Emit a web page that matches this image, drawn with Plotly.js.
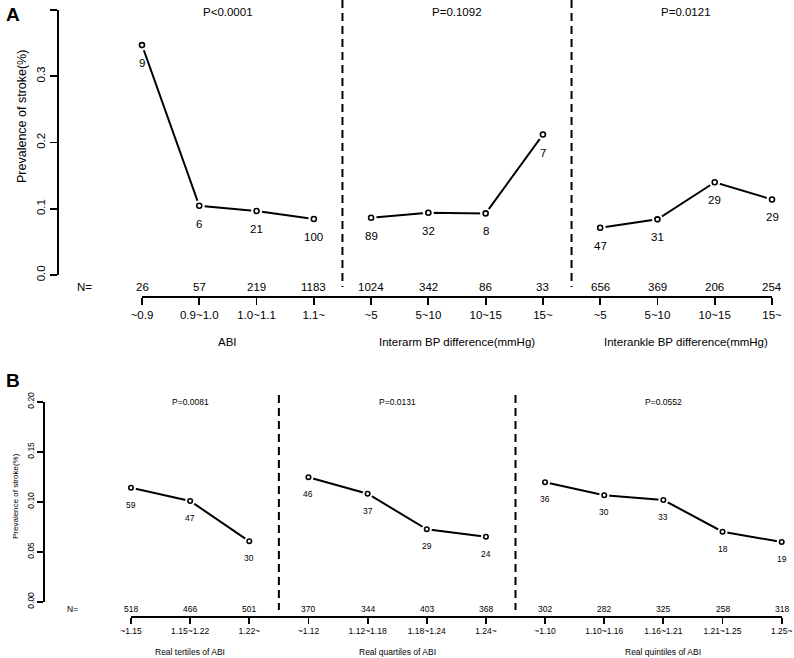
<!DOCTYPE html>
<html>
<head>
<meta charset="utf-8">
<script src="https://cdn.plot.ly/plotly-3.0.1.min.js"></script>
<style>html,body{margin:0;padding:0;background:#fff;}#chart{width:794px;height:658px;}</style>
</head>
<body>
<div id="chart"></div>
<script>
// ---- Panel A data ----
const aCats = ["~0.9","0.9~1.0","1.0~1.1","1.1~","~5","5~10","10~15","15~","~5","5~10","10~15","15~"];
const aVals = [0.347,0.1045,0.0965,0.0845,0.0865,0.094,0.093,0.212,0.0713,0.084,0.140,0.114];
const aCounts = ["9","6","21","100","89","32","8","7","47","31","29","29"];
const aN = ["26","57","219","1183","1024","342","86","33","656","369","206","254"];
const aGroupSizes = [4,4,4];
const aGroupNames = ["ABI","Interarm BP difference(mmHg)","Interankle BP difference(mmHg)"];
const aPvals = ["P<0.0001","P=0.1092","P=0.0121"];
const aYTicks = [0,0.1,0.2,0.3,0.4];

// ---- Panel B data ----
const bCats = ["~1.15","1.15~1.22","1.22~","~1.12","1.12~1.18","1.18~1.24","1.24~","~1.10","1.10~1.16","1.16~1.21","1.21~1.25","1.25~"];
const bVals = [0.114,0.1007,0.0604,0.1244,0.108,0.0724,0.065,0.1194,0.1064,0.1017,0.070,0.0597];
const bCounts = ["59","47","30","46","37","29","24","36","30","33","18","19"];
const bN = ["518","466","501","370","344","403","368","302","282","325","258","318"];
const bGroupSizes = [3,4,5];
const bGroupNames = ["Real tertiles of ABI","Real quartiles of ABI","Real quintiles of ABI"];
const bPvals = ["P=0.0081","P=0.0131","P=0.0552"];
const bYTicks = [0,0.05,0.1,0.15,0.2];

const W = 794, H = 658;
const px = v => v / W;
const py = v => 1 - v / H;
const FONT = "Liberation Sans, Arial, sans-serif";

const traces = [];
const shapes = [];
const annotations = [];

function buildPanel(cats, vals, counts, ns, sizes, names, pvals, cfg) {
  const xa = cfg.xa, ya = cfg.ya;
  let start = 0;
  sizes.forEach((sz, g) => {
    const idx = [];
    for (let i = start; i < start + sz; i++) idx.push(i);
    const xs = idx, ys = idx.map(i => vals[i]);
    traces.push({x: xs, y: ys, xaxis: xa, yaxis: ya, mode: 'lines', type: 'scatter',
      line: {color: '#000', width: cfg.lw}, hoverinfo: 'skip', cliponaxis: false, showlegend: false});
    traces.push({x: xs, y: ys, xaxis: xa, yaxis: ya, mode: 'markers', type: 'scatter',
      marker: {symbol: 'circle', size: cfg.halo, color: '#fff', line: {width: 0}},
      hoverinfo: 'skip', cliponaxis: false, showlegend: false});
    traces.push({x: xs, y: ys, xaxis: xa, yaxis: ya, mode: 'markers', type: 'scatter',
      marker: {symbol: 'circle', size: cfg.ms, color: '#fff', line: {width: 1.6, color: '#000'}},
      hoverinfo: 'skip', cliponaxis: false, showlegend: false});
    const center = start + (sz - 1) / 2;
    annotations.push({x: center, xref: xa, y: py(cfg.pY), yref: 'paper', text: pvals[g], showarrow: false,
      font: {family: FONT, size: cfg.fs, color: '#000'}, xanchor: 'center', yanchor: 'middle'});
    annotations.push({x: center, xref: xa, y: py(cfg.gY), yref: 'paper', text: names[g], showarrow: false,
      font: {family: FONT, size: cfg.fs, color: '#000'}, xanchor: 'center', yanchor: 'middle'});
    if (g < sizes.length - 1) {
      shapes.push({type: 'line', xref: xa, yref: 'paper', x0: start + sz - 0.5, x1: start + sz - 0.5,
        y0: py(cfg.dashTop), y1: py(cfg.dashBot), line: {color: '#000', width: 2, dash: '8px,5px'}});
    }
    start += sz;
  });
  cats.forEach((c, i) => {
    annotations.push({x: i, xref: xa, y: vals[i], yref: ya, text: counts[i], showarrow: false,
      yshift: cfg.cshift, font: {family: FONT, size: cfg.fs, color: '#000'}, xanchor: 'center', yanchor: 'middle'});
    annotations.push({x: i, xref: xa, y: py(cfg.nY), yref: 'paper', text: ns[i], showarrow: false,
      font: {family: FONT, size: cfg.fs, color: '#000'}, xanchor: 'center', yanchor: 'middle'});
  });
  annotations.push({x: px(cfg.nLabX), xref: 'paper', y: py(cfg.nY), yref: 'paper', text: 'N=', showarrow: false,
    font: {family: FONT, size: cfg.fs, color: '#000'}, xanchor: 'center', yanchor: 'middle'});
  annotations.push({x: px(cfg.ytX), xref: 'paper', y: py(cfg.ytY), yref: 'paper', text: 'Prevalence of stroke(%)',
    showarrow: false, textangle: -90, font: {family: FONT, size: cfg.yfs, color: '#000'}, xanchor: 'center', yanchor: 'middle'});
  annotations.push({x: px(12.5), xref: 'paper', y: py(cfg.letY), yref: 'paper', text: '<b>' + cfg.letter + '</b>',
    showarrow: false, font: {family: FONT, size: 19, color: '#000'}, xanchor: 'center', yanchor: 'middle'});
}

buildPanel(aCats, aVals, aCounts, aN, aGroupSizes, aGroupNames, aPvals,
  {xa: 'x', ya: 'y', lw: 2, ms: 5, halo: 11, fs: 11.5, yfs: 12.5, pY: 12, gY: 342, dashTop: 0, dashBot: 287,
   cshift: -18, nY: 287, nLabX: 84, ytX: 22, ytY: 117, letY: 14, letter: 'A'});
buildPanel(bCats, bVals, bCounts, bN, bGroupSizes, bGroupNames, bPvals,
  {xa: 'x2', ya: 'y2', lw: 2, ms: 4.5, halo: 10, fs: 8.5, yfs: 8, pY: 402, gY: 652, dashTop: 395, dashBot: 610,
   cshift: -17, nY: 609, nLabX: 72, ytX: 15, ytY: 496, letY: 381, letter: 'B'});

const axisCommon = {showline: true, linecolor: '#000', linewidth: 1.8, ticks: 'outside', tickcolor: '#000',
  tickwidth: 1.8, showgrid: false, zeroline: false, fixedrange: true};

const layout = {
  width: W, height: H, margin: {l: 0, r: 0, t: 0, b: 0}, paper_bgcolor: '#fff', plot_bgcolor: 'rgba(0,0,0,0)',
  showlegend: false,
  xaxis: Object.assign({}, axisCommon, {domain: [px(142), px(772)], range: [0, 11], anchor: 'free', position: py(296),
    tickvals: aCats.map((c, i) => i), ticktext: aCats, ticklen: 7, tickfont: {family: FONT, size: 11.5, color: '#000'}}),
  yaxis: Object.assign({}, axisCommon, {domain: [py(275), py(10)], range: [0, 0.4], anchor: 'free', position: px(57),
    tickvals: aYTicks, tickformat: '.1f', tickangle: -90, ticklen: 7, tickfont: {family: FONT, size: 11.5, color: '#000'}}),
  xaxis2: Object.assign({}, axisCommon, {domain: [px(131), px(781.7)], range: [0, 11], anchor: 'free', position: py(615.7),
    tickvals: bCats.map((c, i) => i), ticktext: bCats, ticklen: 6, tickfont: {family: FONT, size: 8.5, color: '#000'}}),
  yaxis2: Object.assign({}, axisCommon, {domain: [py(601.7), py(401.7)], range: [0, 0.2], anchor: 'free', position: px(43),
    tickvals: bYTicks, tickformat: '.2f', tickangle: -90, ticklen: 6, tickfont: {family: FONT, size: 8.5, color: '#000'}}),
  shapes: shapes,
  annotations: annotations
};

Plotly.newPlot('chart', traces, layout, {staticPlot: true, displayModeBar: false});
</script>
</body>
</html>
